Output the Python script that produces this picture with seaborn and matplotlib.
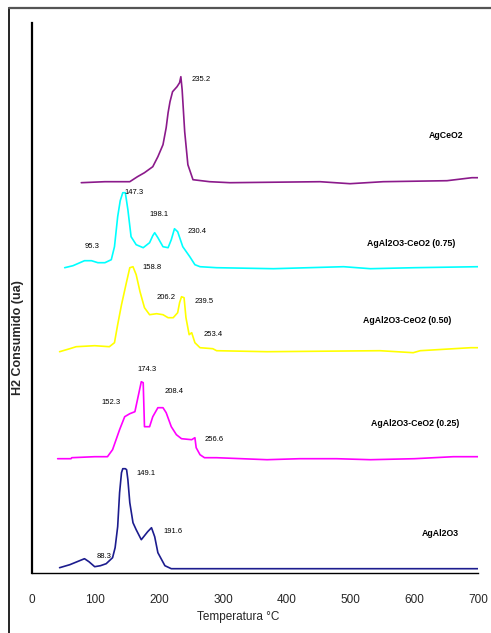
import matplotlib
matplotlib.use("Agg")
import matplotlib.pyplot as plt
from matplotlib.lines import Line2D
import seaborn as sns

# ---- data (temperature in °C, signal in arbitrary units, already offset per series) ----
agal_T = [44, 60, 83, 90, 99, 108, 117, 127, 131, 135, 138, 141, 143, 147, 149, 151, 154, 159, 164, 172, 182, 188, 193, 198, 209, 219, 300, 400, 500, 600, 700]
agal_y = [5, 8, 14, 11, 6, 7, 9, 15, 25, 46, 80, 100, 104, 104, 103, 93, 70, 50, 43, 33, 41, 45, 36, 20, 7, 4, 4, 4, 4, 4, 4]

m25_T = [41, 62, 63, 99, 119, 127, 138, 146, 154, 162, 166, 172, 175, 177, 185, 190, 198, 206, 211, 219, 227, 235, 251, 256, 258, 264, 271, 290, 369, 420, 478, 531, 600, 661, 700]
m25_y = [114, 114, 115, 116, 116, 123, 143, 156, 159, 161, 173, 191, 190, 146, 146, 156, 165, 165, 160, 146, 138, 134, 133, 135, 125, 118, 115, 115, 113, 114, 114, 113, 114, 116, 116]

m50_T = [44, 60, 70, 99, 122, 130, 135, 141, 149, 154, 159, 164, 170, 177, 185, 196, 206, 214, 222, 229, 232, 235, 239, 242, 247, 251, 256, 264, 284, 290, 369, 546, 598, 609, 688, 700]
m50_y = [221, 224, 226, 227, 226, 230, 248, 268, 291, 305, 306, 298, 281, 265, 258, 259, 258, 255, 255, 260, 270, 276, 275, 255, 238, 240, 230, 225, 224, 222, 221, 222, 220, 222, 225, 225]

m75_T = [52, 65, 83, 94, 104, 115, 125, 130, 135, 139, 143, 147, 151, 156, 164, 175, 185, 190, 193, 198, 206, 214, 219, 224, 229, 237, 248, 256, 264, 290, 379, 489, 531, 600, 700]
m75_y = [305, 307, 312, 312, 310, 310, 313, 326, 356, 372, 380, 380, 363, 336, 328, 325, 330, 337, 340, 335, 326, 325, 333, 344, 341, 326, 316, 308, 306, 305, 304, 306, 304, 305, 306]

ce_T = [78, 115, 154, 166, 177, 190, 198, 206, 211, 214, 217, 221, 228, 232, 234, 236, 240, 245, 253, 279, 311, 452, 499, 551, 651, 690, 700]
ce_y = [390, 391, 391, 396, 400, 406, 416, 428, 445, 460, 471, 481, 486, 490, 496, 483, 441, 408, 393, 391, 390, 391, 389, 391, 392, 395, 395]

series_names = ["AgAl2O3", "AgAl2O3-CeO2 (0.25)", "AgAl2O3-CeO2 (0.50)", "AgAl2O3-CeO2 (0.75)", "AgCeO2"]
series_colors = ["#1c1c8e", "#ff00ff", "#ffff00", "#00ffff", "#8b1a8b"]
name_T = [612, 532, 519, 525, 622]
name_y = [39, 149, 252, 329, 437]

peak_text = ["88.3", "149.1", "191.6",
             "152.3", "174.3", "208.4", "256.6",
             "158.8", "206.2", "239.5", "253.4",
             "95.3", "147.3", "198.1", "230.4",
             "235.2"]
peak_T = [102, 164, 206, 110, 166, 209, 271, 174, 196, 256, 269, 83, 146, 185, 245, 251]
peak_y = [16, 99, 41, 170, 203, 181, 133, 305, 275, 271, 238, 326, 380, 358, 341, 493]

x_ticks = [0, 100, 200, 300, 400, 500, 600, 700]

# ---- figure ----
sns.set_style("white")
plt.rcParams['font.family'] = ['Liberation Sans', 'DejaVu Sans']

W, H = 491, 633
fig = plt.figure(figsize=(W / 100, H / 100), dpi=100)
ax = fig.add_axes([31.5 / W, 1 - 572.7 / H, (478.3 - 31.5) / W, (572.7 - 23) / H])

all_T = [agal_T, m25_T, m50_T, m75_T, ce_T]
all_y = [agal_y, m25_y, m50_y, m75_y, ce_y]
for T, y, c in zip(all_T, all_y, series_colors):
    sns.lineplot(x=T, y=y, ax=ax, color=c, lw=1.2, sort=False, estimator=None, legend=False)

for t, x, y in zip(peak_text, peak_T, peak_y):
    ax.text(x, y, t, fontsize=5.5, ha='left', va='center', color='black')

for n, x, y in zip(series_names, name_T, name_y):
    ax.text(x, y, n, fontsize=6.3, fontweight='bold', ha='left', va='center', color='black')

ax.set_xlim(0, 700)
ax.set_ylim(0, 549.7)
ax.set_xticks(x_ticks)
ax.set_xticklabels([str(v) for v in x_ticks])
ax.set_yticks([])
ax.tick_params(axis='x', direction='out', length=6, width=1, labelsize=8.5, pad=9, color='black')
for s in ['top', 'right']:
    ax.spines[s].set_visible(False)
ax.spines['left'].set_linewidth(1.6)
ax.spines['left'].set_color('black')
ax.spines['bottom'].set_linewidth(1.0)
ax.spines['bottom'].set_color('black')

ax.set_xlabel("Temperatura °C", fontsize=8.5, va='top')
ax.xaxis.set_label_coords((238 - 31.5) / 446.8, -(611 - 572.7) / 549.7)
ax.set_ylabel("H2 Consumido (ua)", fontsize=9, fontweight='bold', va='center')
ax.yaxis.set_label_coords((18 - 31.5) / 446.8, (572.7 - 338) / 549.7)

# outer frame
fig.add_artist(Line2D([9 / W, 9 / W], [0, 1 - 7.5 / H], transform=fig.transFigure, color='black', lw=1.2))
fig.add_artist(Line2D([9 / W, 1], [1 - 7.5 / H, 1 - 7.5 / H], transform=fig.transFigure, color='#555555', lw=1.6))

fig.savefig("out.png", dpi=100)
